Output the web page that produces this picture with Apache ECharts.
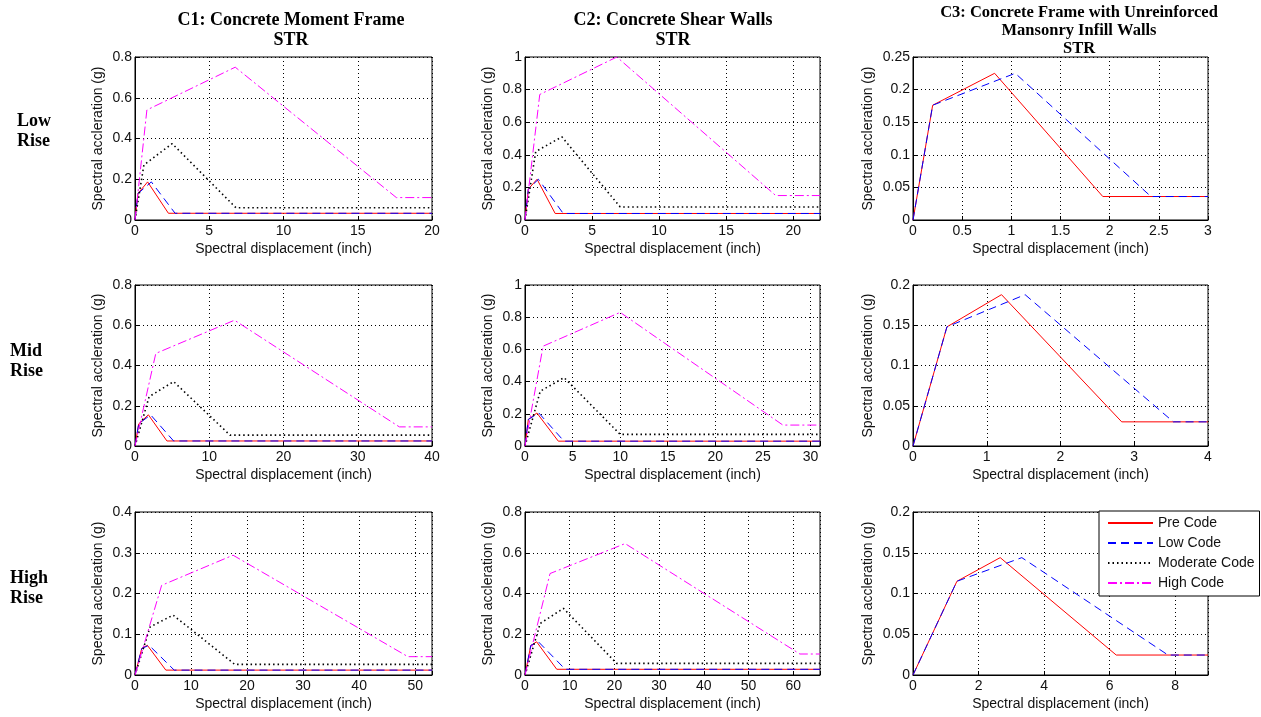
<!DOCTYPE html>
<html style="height: 100%">
<head>
    <meta charset="utf-8">
    <title>Capacity curves</title>
</head>
<body style="height: 100%; margin: 0">
<div id="container" style="width: 1261px; height: 717px"></div>
<script src="https://cdn.jsdelivr.net/npm/echarts@6/dist/echarts.min.js"></script>
<script type="text/javascript">
    // captions
    var colTitles = ['C1: Concrete Moment Frame\nSTR', 'C2: Concrete Shear Walls\nSTR',
        'C3: Concrete Frame with Unreinforced\nMansonry Infill Walls\nSTR'];
    var rowTitles = ['Low\nRise', 'Mid\nRise', 'High\nRise'];
    var codeNames = ['Pre Code', 'Low Code', 'Moderate Code', 'High Code'];
    var xName = 'Spectral displacement (inch)';
    var yName = 'Spectral accleration (g)';

    // axis ranges per panel, row by row (Low C1, Low C2, Low C3, Mid C1 ...)
    var xMax = [20, 22, 3, 40, 31, 4, 53, 66, 9];
    var xStep = [5, 5, 0.5, 10, 5, 1, 10, 10, 2];
    var yMax = [0.8, 1, 0.25, 0.8, 1, 0.2, 0.4, 0.8, 0.2];
    var yStep = [0.2, 0.2, 0.05, 0.2, 0.2, 0.05, 0.1, 0.2, 0.05];

    // capacity curves [Sd, Sa] : Pre, Low, Moderate, High code
    var lowC1 = [
        [[0, 0], [0.2, 0.13], [0.85, 0.187], [2.25, 0.033], [20, 0.033]],
        [[0, 0], [0.2, 0.13], [1.1, 0.187], [2.7, 0.033], [20, 0.033]],
        [[0, 0], [0.6, 0.27], [2.5, 0.375], [6.8, 0.06], [20, 0.06]],
        [[0, 0], [0.8, 0.54], [6.75, 0.75], [17.6, 0.11], [20, 0.11]]
    ];
    var lowC2 = [
        [[0, 0], [0.25, 0.19], [0.9, 0.25], [2.25, 0.04], [22, 0.04]],
        [[0, 0], [0.25, 0.19], [1.0, 0.25], [2.85, 0.04], [22, 0.04]],
        [[0, 0], [0.8, 0.42], [2.75, 0.51], [7.1, 0.08], [22, 0.08]],
        [[0, 0], [1.1, 0.77], [6.85, 1.0], [18.7, 0.15], [22, 0.15]]
    ];
    var lowC3 = [
        [[0, 0], [0.2, 0.176], [0.83, 0.225], [1.93, 0.036], [3, 0.036]],
        [[0, 0], [0.2, 0.176], [1.04, 0.225], [2.42, 0.036], [3, 0.036]]
    ];
    var midC1 = [
        [[0, 0], [0.5, 0.11], [1.8, 0.155], [4.3, 0.025], [40, 0.025]],
        [[0, 0], [0.5, 0.11], [2.1, 0.155], [5.2, 0.025], [40, 0.025]],
        [[0, 0], [1.9, 0.245], [5.2, 0.32], [12.8, 0.054], [40, 0.054]],
        [[0, 0], [2.8, 0.46], [13.4, 0.625], [35.6, 0.095], [40, 0.095]]
    ];
    var midC2 = [
        [[0, 0], [0.35, 0.165], [1.25, 0.205], [3.5, 0.03], [31, 0.03]],
        [[0, 0], [0.35, 0.165], [1.45, 0.205], [4.1, 0.03], [31, 0.03]],
        [[0, 0], [1.6, 0.34], [4.1, 0.425], [10, 0.072], [31, 0.072]],
        [[0, 0], [1.9, 0.62], [10, 0.83], [27.1, 0.13], [31, 0.13]]
    ];
    var midC3 = [
        [[0, 0], [0.46, 0.148], [1.2, 0.188], [2.83, 0.03], [4, 0.03]],
        [[0, 0], [0.46, 0.148], [1.52, 0.188], [3.53, 0.03], [4, 0.03]]
    ];
    var highC1 = [
        [[0, 0], [1.2, 0.065], [2.2, 0.073], [5.5, 0.012], [53, 0.012]],
        [[0, 0], [1.2, 0.065], [2.5, 0.073], [7.0, 0.012], [53, 0.012]],
        [[0, 0], [2.7, 0.118], [6.8, 0.147], [17.8, 0.026], [53, 0.026]],
        [[0, 0], [4.75, 0.22], [17.5, 0.294], [48.7, 0.045], [53, 0.045]]
    ];
    var highC2 = [
        [[0, 0], [1.3, 0.145], [2.6, 0.163], [7.1, 0.028], [66, 0.028]],
        [[0, 0], [1.3, 0.145], [3.0, 0.163], [9.0, 0.028], [66, 0.028]],
        [[0, 0], [3.4, 0.253], [8.6, 0.327], [20.5, 0.057], [66, 0.057]],
        [[0, 0], [5.6, 0.498], [22.4, 0.645], [61.5, 0.103], [66, 0.103]]
    ];
    var highC3 = [
        [[0, 0], [1.34, 0.115], [2.66, 0.144], [6.2, 0.0245], [9, 0.0245]],
        [[0, 0], [1.34, 0.115], [3.32, 0.144], [7.78, 0.0245], [9, 0.0245]]
    ];
    var panels = [lowC1, lowC2, lowC3, midC1, midC2, midC3, highC1, highC2, highC3];

    // layout (pixels)
    var colLeft = [135, 525, 913];
    var colWidth = [297, 295, 295];
    var rowTop = [57, 285, 512];
    var rowHeight = [163, 161, 163];
    var yNameGap = [30, 30, 38];
    var colTitleX = [291, 673, 1079];
    var colTitleY = [10, 10, 4];
    var colTitleLH = [20, 20, 18];
    var colTitleSize = [18, 18, 16.5];
    var rowTitleX = [17, 10, 10];
    var rowTitleY = [111, 341, 568];

    var sans = '"Liberation Sans", Arial, sans-serif';
    var serif = '"Liberation Serif", "Times New Roman", serif';
    var lineColors = ['#ff0000', '#0000ff', '#000000', '#ff00ff'];
    var lineTypes = ['solid', [8, 5], [1.5, 3], [9, 3, 2, 3]];
    var lineWidths = [1, 1, 1.6, 1];

    var dom = document.getElementById('container');
    var myChart = echarts.init(dom);

    function tickFmt(step) {
        return function (v) {
            var k = v / step;
            return Math.abs(k - Math.round(k)) < 1e-6 ? String(+v.toFixed(4)) : '';
        };
    }

    var grids = [], xAxes = [], yAxes = [], series = [], graphics = [];
    for (var i = 0; i < 9; i++) {
        var r = Math.floor(i / 3), c = i % 3;
        grids.push({
            left: colLeft[c], top: rowTop[r], width: colWidth[c], height: rowHeight[r],
            show: true, borderColor: '#000', borderWidth: 1, backgroundColor: '#fff'
        });
        xAxes.push({
            type: 'value', gridIndex: i, min: 0, max: xMax[i], interval: xStep[i],
            name: xName, nameLocation: 'middle', nameGap: 22,
            nameTextStyle: {fontSize: 14, color: '#111', fontFamily: sans},
            axisLine: {show: true, onZero: false, lineStyle: {color: '#000', width: 1}},
            axisTick: {show: true, inside: true, length: 4, lineStyle: {color: '#000'}},
            axisLabel: {fontSize: 14, color: '#111', fontFamily: sans, margin: 4, formatter: tickFmt(xStep[i])},
            splitLine: {show: true, lineStyle: {color: '#000', width: 1, type: [1, 3]}}
        });
        yAxes.push({
            type: 'value', gridIndex: i, min: 0, max: yMax[i], interval: yStep[i],
            name: yName, nameLocation: 'middle', nameGap: yNameGap[c],
            nameTextStyle: {fontSize: 14, color: '#111', fontFamily: sans},
            axisLine: {show: true, onZero: false, lineStyle: {color: '#000', width: 1}},
            axisTick: {show: true, inside: true, length: 4, lineStyle: {color: '#000'}},
            axisLabel: {fontSize: 14, color: '#111', fontFamily: sans, margin: 3, formatter: tickFmt(yStep[i])},
            splitLine: {show: true, lineStyle: {color: '#000', width: 1, type: [1, 3]}}
        });
        panels[i].forEach(function (curve, k) {
            series.push({
                name: codeNames[k],
                type: 'line',
                xAxisIndex: i,
                yAxisIndex: i,
                symbol: 'none',
                animation: false,
                lineStyle: {color: lineColors[k], width: lineWidths[k], type: lineTypes[k]},
                itemStyle: {color: lineColors[k]},
                data: curve
            });
        });
    }

    for (var j = 0; j < 3; j++) {
        graphics.push({
            type: 'text', x: colTitleX[j], y: colTitleY[j],
            style: {
                text: colTitles[j], fill: '#000',
                font: 'bold ' + colTitleSize[j] + 'px ' + serif,
                textAlign: 'center', align: 'center',
                textVerticalAlign: 'top', verticalAlign: 'top',
                lineHeight: colTitleLH[j]
            }
        });
        graphics.push({
            type: 'text', x: rowTitleX[j], y: rowTitleY[j],
            style: {
                text: rowTitles[j], fill: '#000',
                font: 'bold 18px ' + serif,
                textAlign: 'left', align: 'left',
                textVerticalAlign: 'top', verticalAlign: 'top',
                lineHeight: 20
            }
        });
    }

    var option = {
        backgroundColor: '#fff',
        animation: false,
        grid: grids,
        xAxis: xAxes,
        yAxis: yAxes,
        graphic: graphics,
        legend: {
            data: codeNames,
            orient: 'vertical',
            left: 1099,
            top: 511,
            itemWidth: 45,
            itemHeight: 14,
            itemGap: 6,
            padding: [5, 5, 6, 8],
            borderColor: '#000',
            borderWidth: 1,
            backgroundColor: '#fff',
            itemStyle: {opacity: 0},
            textStyle: {fontSize: 14, color: '#111', fontFamily: sans}
        },
        series: series
    };
    myChart.setOption(option, true);
</script>
</body>
</html>
